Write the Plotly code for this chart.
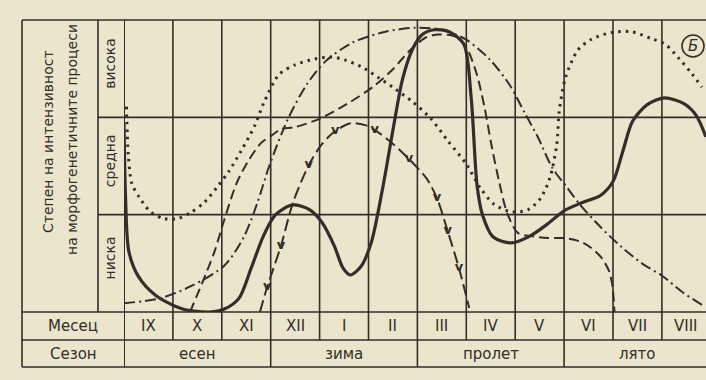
import plotly.graph_objects as go

# ---------------- data ----------------
months = ["IX", "X", "XI", "XII", "I", "II", "III", "IV", "V", "VI", "VII", "VIII"]
seasons = ["есен", "зима", "пролет", "лято"]
levels = ["ниска", "средна", "висока"]

# x: months elapsed since the start of September (0 .. 12), y: intensity 0 (низка) .. 3 (висока)
solid_x = [0.0, 0.03, 0.1, 0.3, 0.65, 1.2, 1.75, 2.05, 2.35, 2.6, 2.85, 3.1, 3.45, 3.8, 4.05,
           4.3, 4.48, 4.63, 4.85, 5.06, 5.3, 5.5, 5.7, 5.9, 6.1, 6.35, 6.65, 6.95, 7.1, 7.22,
           7.33, 7.55, 7.92, 8.3, 8.65, 9.0, 9.35, 9.75, 10.0, 10.2, 10.4, 10.7, 11.05, 11.45,
           11.7, 11.9]
solid_y = [1.95, 1.2, 0.62, 0.36, 0.17, 0.03, 0.0, 0.03, 0.14, 0.45, 0.78, 1.0, 1.1, 1.05, 0.92,
           0.68, 0.45, 0.38, 0.47, 0.72, 1.3, 1.87, 2.4, 2.7, 2.85, 2.9, 2.88, 2.75, 2.2, 1.3,
           1.0, 0.77, 0.71, 0.78, 0.9, 1.04, 1.12, 1.2, 1.34, 1.65, 1.96, 2.13, 2.2, 2.14,
           2.02, 1.8]

dotted_x = [0.05, 0.09, 0.16, 0.31, 0.54, 0.81, 1.1, 1.36, 1.63, 1.9, 2.15, 2.4, 2.67, 2.86,
            3.17, 3.5, 3.9, 4.25, 4.51, 4.85, 5.2, 5.55, 5.9, 6.27, 6.62, 7.0, 7.28, 7.56,
            7.91, 8.26, 8.52, 8.71, 8.85, 8.9, 9.03, 9.28, 9.55, 9.96, 10.37, 10.78, 11.07,
            11.34, 11.61, 11.82]
dotted_y = [2.11, 1.6, 1.32, 1.18, 1.03, 0.96, 0.96, 1.02, 1.12, 1.28, 1.45, 1.66, 1.91, 2.15,
            2.44, 2.54, 2.6, 2.62, 2.59, 2.52, 2.41, 2.29, 2.16, 1.99, 1.76, 1.52, 1.28, 1.11,
            1.03, 1.05, 1.17, 1.38, 1.72, 2.06, 2.41, 2.69, 2.8, 2.87, 2.88, 2.81, 2.75,
            2.61, 2.45, 2.31]

dashdot_x = [0.0, 0.73, 1.39, 2.06, 2.45, 2.72, 2.97, 3.35, 3.74, 4.13, 4.68, 5.35, 5.95, 6.5,
             6.99, 7.47, 7.89, 8.19, 8.47, 8.76, 9.06, 9.33, 9.75, 10.17, 10.59, 11.01, 11.43,
             11.83]
dashdot_y = [0.09, 0.14, 0.27, 0.48, 0.77, 1.11, 1.5, 1.98, 2.34, 2.58, 2.77, 2.88, 2.92, 2.9,
             2.8, 2.6, 2.33, 2.05, 1.79, 1.48, 1.28, 1.1, 0.87, 0.67, 0.5, 0.37, 0.2, 0.07]

dashed_x = [1.35, 1.6, 1.85, 2.04, 2.3, 2.55, 2.81, 3.01, 3.21, 3.5, 4.02, 4.57, 5.11, 5.51,
            5.83, 6.17, 6.43, 6.78, 6.99, 7.21, 7.37, 7.52, 7.68, 7.84, 8.06, 8.33, 8.67, 9.0,
            9.35, 9.55, 9.76, 9.92, 9.99, 10.03]
dashed_y = [0.0, 0.3, 0.62, 0.93, 1.32, 1.56, 1.74, 1.81, 1.88, 1.9, 1.99, 2.14, 2.32, 2.5,
            2.68, 2.82, 2.85, 2.83, 2.73, 2.45, 2.11, 1.7, 1.32, 1.01, 0.81, 0.78, 0.76, 0.76,
            0.72, 0.66, 0.56, 0.42, 0.26, 0.0]

vline_x = [2.78, 2.93, 3.21, 3.46, 3.78, 4.04, 4.32, 4.64, 4.93, 5.13, 5.47, 5.83, 6.19, 6.4,
           6.62, 6.85, 7.06]
vline_y = [0.0, 0.26, 0.68, 1.13, 1.51, 1.72, 1.86, 1.94, 1.92, 1.87, 1.74, 1.57, 1.37, 1.17,
           0.83, 0.45, 0.04]
v_mark_idx = [1, 2, 4, 6, 9, 11, 13, 14, 15]

# ---------------- layout geometry (pixels of the 706x380 page) ----------------
W, H = 706, 380
X_OUT, X_DIV, X_PLOT = 22, 98, 124
COL = 48.9
Y_TOP, Y_BOT, Y_ROW, Y_END = 20, 312, 340, 367
INK = "#332e29"
PAPER = "#ebe5cd"
FONT = "DejaVu Sans"


def fx(p):
    return p / W


def fy(p):
    return 1 - p / H


fig = go.Figure()

line_common = dict(shape="spline", smoothing=0.8, color=INK)
fig.add_trace(go.Scatter(x=dotted_x, y=dotted_y, mode="lines",
                         line=dict(width=3, dash="2.5px,5px", **line_common)))
fig.add_trace(go.Scatter(x=dashdot_x, y=dashdot_y, mode="lines",
                         line=dict(width=2, dash="11px,4px,2px,4px", **line_common)))
fig.add_trace(go.Scatter(x=dashed_x, y=dashed_y, mode="lines",
                         line=dict(width=2, dash="10px,5px", **line_common)))
fig.add_trace(go.Scatter(x=vline_x, y=vline_y, mode="lines",
                         line=dict(width=2, dash="12px,5px", **line_common)))
fig.add_trace(go.Scatter(x=[vline_x[i] for i in v_mark_idx], y=[vline_y[i] for i in v_mark_idx],
                         mode="text", text=["<b>v</b>"] * len(v_mark_idx),
                         textfont=dict(family=FONT, size=13, color=INK), textposition="middle center"))
fig.add_trace(go.Scatter(x=solid_x, y=solid_y, mode="lines",
                         line=dict(width=3.2, **line_common)))

shapes = []
lw = 1.6


def seg(x0, y0, x1, y1, xref="paper", yref="paper", w=lw):
    shapes.append(dict(type="line", x0=x0, y0=y0, x1=x1, y1=y1, xref=xref, yref=yref,
                       line=dict(color=INK, width=w), layer="below"))


# horizontal frame lines
for yy in (Y_TOP, Y_BOT, Y_ROW, Y_END):
    seg(fx(X_OUT), fy(yy), 1, fy(yy))
# level boundaries inside plot and level column
for lv in (1, 2):
    seg(fx(X_DIV), lv, 1, lv, yref="y")
# vertical frame lines
seg(fx(X_OUT), fy(Y_TOP), fx(X_OUT), fy(Y_END))
seg(fx(X_DIV), fy(Y_TOP), fx(X_DIV), fy(Y_BOT))
seg(0, fy(Y_TOP), 0, fy(Y_END), xref="x", w=2)
# month columns through plot and month row
for i in range(1, len(months)):
    seg(i, fy(Y_TOP), i, fy(Y_ROW), xref="x")
# season boundaries in season row
for i in (3, 6, 9):
    seg(i, fy(Y_ROW), i, fy(Y_END), xref="x")

# circled letter
shapes.append(dict(type="circle", xref="paper", yref="paper",
                   x0=fx(682), x1=fx(704), y0=fy(57), y1=fy(35),
                   line=dict(color=INK, width=1.6)))

ann = []
tf = dict(family=FONT, color=INK)


def label(x, y, text, size, xref="paper", yref="paper", angle=0):
    ann.append(dict(x=x, y=y, xref=xref, yref=yref, text=text, textangle=angle,
                    showarrow=False, xanchor="center", yanchor="middle",
                    font=dict(size=size, **tf)))


label(fx(48), fy(142), "Степен на интензивност", 14, angle=-90)
label(fx(72), fy(140), "на морфогенетичните процеси", 14, angle=-90)
for k, name in enumerate(levels):
    label(fx((X_DIV + X_PLOT) / 2 - 1), k + 0.55, name, 14, yref="y", angle=-90)
label(fx((X_OUT + X_PLOT) / 2), fy((Y_BOT + Y_ROW) / 2), "Месец", 15)
label(fx((X_OUT + X_PLOT) / 2), fy((Y_ROW + Y_END) / 2), "Сезон", 15)
for i, m in enumerate(months):
    label(i + 0.5, fy((Y_BOT + Y_ROW) / 2), m, 15, xref="x")
for i, s in enumerate(seasons):
    label(3 * i + 1.5, fy((Y_ROW + Y_END) / 2), s, 15, xref="x")
label(fx(693), fy(46), "<i>Б</i>", 15)

fig.update_layout(
    width=W, height=H,
    margin=dict(l=0, r=0, t=0, b=0),
    paper_bgcolor=PAPER, plot_bgcolor="rgba(0,0,0,0)",
    showlegend=False,
    xaxis=dict(domain=[fx(X_PLOT), 1], range=[0, (W - X_PLOT) / COL], showgrid=False,
               zeroline=False, showticklabels=False, ticks="", fixedrange=True),
    yaxis=dict(domain=[fy(Y_BOT), fy(Y_TOP)], range=[0, 3], showgrid=False,
               zeroline=False, showticklabels=False, ticks="", fixedrange=True),
    shapes=shapes, annotations=ann,
)

fig.write_html("out.html", config={"displayModeBar": False},
               post_script="document.body.style.margin='0px';"
                           "document.body.style.background='" + PAPER + "';")
